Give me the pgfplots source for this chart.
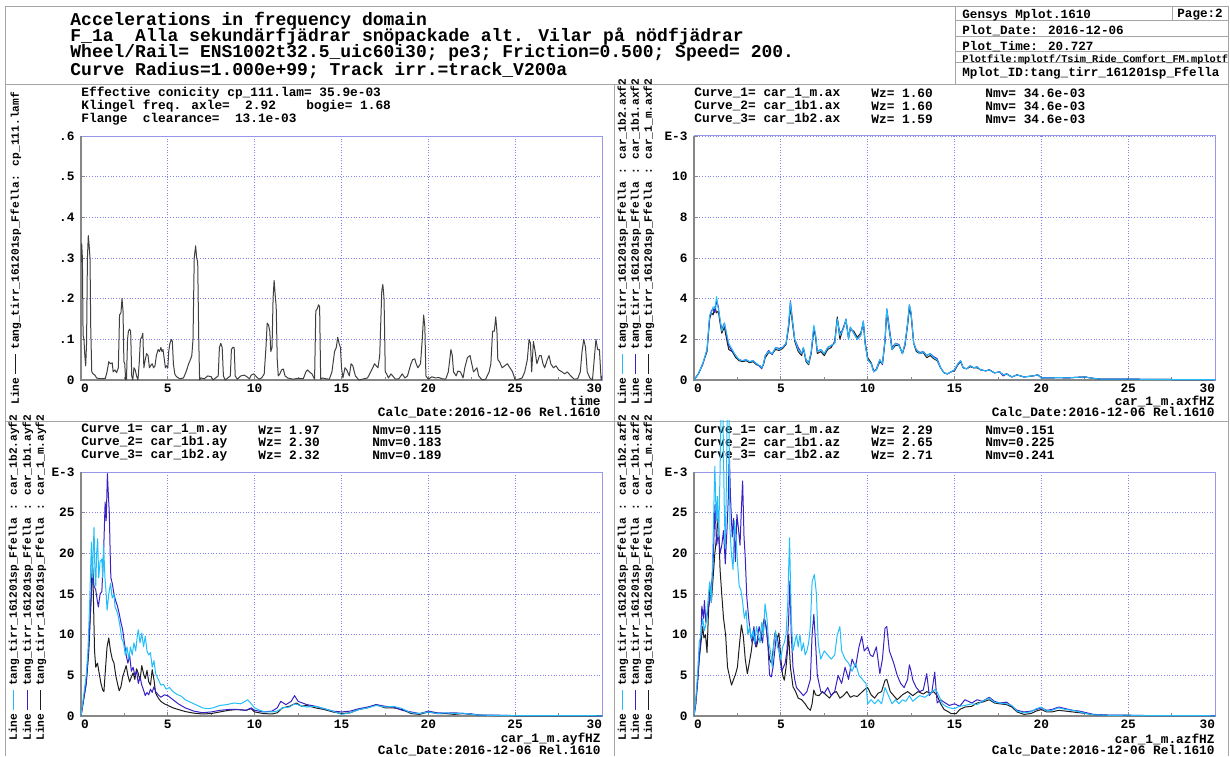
\documentclass[border=0pt]{standalone}
\usepackage{fontspec}
\setmainfont{Liberation Mono}
\usepackage{pgfplots}
\pgfplotsset{compat=1.18}
\usepackage{pgfplotstable}

\definecolor{gridc}{RGB}{130,130,240}
\definecolor{boxc}{RGB}{150,150,235}
\definecolor{framec}{RGB}{165,165,165}
\definecolor{axc}{RGB}{135,135,135}
\definecolor{cCyan}{RGB}{35,190,250}
\definecolor{cBlue}{RGB}{55,35,195}
\definecolor{cBlack}{RGB}{30,30,30}

\newcommand\fs[1]{\fontsize{#1}{#1}\selectfont\bfseries}

\pgfplotsset{
  panel/.style={
    scale only axis, width=260.5pt, height=122pt,
    xmin=0, xmax=30, ymin=0,
    axis line style={boxc, line width=0.5pt},
    grid=major, grid style={gridc, line width=0.45pt, dash pattern=on 0.45pt off 0.9pt},
    xtick={0,5,...,30},
    xticklabels={\rlap{0},5,10,15,20,25,\llap{30}},
    minor x tick num=1,
    tick pos=left,
    tick align=inside,
    major tick length=2pt, minor tick length=1.5pt,
    every tick/.style={axc, line width=0.4pt},
    tick label style={font=\fs{6.4}, inner sep=0pt},
    xticklabel style={anchor=north, yshift=-2pt},
    yticklabel style={anchor=east, xshift=-3pt},
    /pgf/number format/assume math mode=true,
    clip mode=individual,
  },
  curve/.style={line width=0.5pt, line join=round},
}
\newcommand\leftaxis{\draw[axc, line width=0.8pt] (rel axis cs:0,1) -- (rel axis cs:0,0) -- (rel axis cs:1,0);}

% longitudinal spectra, car body and bogies
\pgfplotstableread{
t m b1 b2
0 0 0 0
0.25 0.3 0.3 0.3
0.5 0.8 0.75 0.8
0.75 1.4 1.5 1.5
0.9 3.0 3.1 3.2
1.0 3.3 3.4 3.3
1.1 3.2 3.5 3.6
1.2 3.6 3.3 3.5
1.3 3.3 3.9 4.1
1.4 3.4 3.6 3.5
1.5 2.8 2.9 3.0
1.6 2.3 2.5 2.4
1.75 2.6 2.8 2.8
1.9 1.9 2.1 2.2
2.0 1.5 1.7 1.8
2.2 1.4 1.4 1.5
2.4 1.1 1.2 1.2
2.6 0.95 1.0 1.0
2.8 0.9 0.95 0.95
3.0 0.95 1.0 1.0
3.2 0.85 0.9 0.9
3.4 0.9 0.95 0.95
3.6 0.75 0.8 0.8
3.8 0.7 0.65 0.7
3.9 0.6 0.55 0.6
4.0 0.75 0.8 0.8
4.1 1.1 1.2 1.2
4.3 1.35 1.45 1.4
4.5 1.3 1.25 1.3
4.7 1.5 1.6 1.6
4.9 1.45 1.55 1.5
5.1 1.55 1.6 1.6
5.3 1.75 1.8 1.8
5.45 2.6 2.7 2.8
5.55 3.6 3.9 3.85
5.65 2.9 3.1 3.0
5.8 1.9 2.0 2.0
6.0 1.4 1.6 1.5
6.2 1.2 1.3 1.3
6.3 1.6 1.5 1.6
6.45 0.9 1.0 1.0
6.6 0.75 0.85 0.8
6.75 1.3 1.4 1.4
6.9 2.5 2.6 2.7
7.0 2.1 2.2 2.2
7.1 1.3 1.4 1.4
7.3 1.4 1.5 1.5
7.5 1.2 1.3 1.3
7.7 1.5 1.6 1.6
7.9 1.6 1.7 1.7
8.1 1.9 1.8 1.8
8.25 3.1 3.0 3.0
8.4 2.0 2.3 2.2
8.6 2.6 2.5 2.5
8.75 2.9 3.0 3.0
8.9 2.1 2.0 2.0
9.0 2.5 2.6 2.6
9.2 2.4 2.3 2.3
9.4 2.1 2.0 2.0
9.6 2.3 2.2 2.2
9.75 2.8 2.9 2.9
9.85 1.9 1.8 1.8
10.0 1.1 1.0 1.0
10.2 0.85 0.8 0.8
10.35 0.45 0.4 0.4
10.5 0.5 0.55 0.5
10.7 0.9 1.0 1.0
10.85 0.8 0.75 0.8
11.0 1.9 2.0 2.0
11.1 3.4 3.5 3.5
11.2 2.7 2.9 2.8
11.4 1.5 1.6 1.5
11.6 1.7 1.8 1.8
11.8 1.7 1.75 1.7
12.0 1.3 1.3 1.3
12.15 1.7 1.8 1.8
12.3 2.7 2.8 2.8
12.4 3.5 3.7 3.7
12.5 3.2 3.3 3.3
12.65 1.8 1.8 1.8
12.8 1.4 1.5 1.5
13.0 1.3 1.35 1.3
13.2 1.35 1.4 1.4
13.4 1.1 1.2 1.2
13.6 1.2 1.3 1.3
13.8 1.05 1.15 1.1
14.0 0.95 1.05 1.0
14.2 0.6 0.6 0.6
14.4 0.35 0.35 0.35
14.6 0.3 0.3 0.3
14.8 0.4 0.4 0.4
15.0 0.45 0.5 0.5
15.2 0.75 0.8 0.8
15.35 0.9 0.95 0.95
15.5 0.6 0.6 0.6
15.7 0.55 0.55 0.55
15.9 0.65 0.7 0.7
16.1 0.6 0.6 0.6
16.3 0.6 0.65 0.65
16.5 0.5 0.5 0.5
16.8 0.45 0.45 0.45
17.0 0.5 0.5 0.5
17.3 0.35 0.35 0.35
17.6 0.4 0.4 0.4
17.8 0.25 0.2 0.25
18.0 0.3 0.3 0.3
18.3 0.15 0.15 0.15
18.6 0.25 0.25 0.25
19.0 0.15 0.15 0.15
19.5 0.2 0.2 0.2
19.8 0.25 0.25 0.25
20.0 0.1 0.1 0.1
20.5 0.1 0.1 0.1
21 0.12 0.12 0.12
21.5 0.1 0.1 0.1
22 0.13 0.13 0.13
22.5 0.15 0.15 0.15
23 0.08 0.08 0.08
23.5 0.04 0.04 0.04
24 0.04 0.04 0.04
25 0.05 0.05 0.05
26 0.03 0.03 0.03
27 0.03 0.03 0.03
28 0.02 0.02 0.02
29 0.02 0.02 0.02
30 0.02 0.02 0.02
}\tblax

\begin{document}
\begin{tikzpicture}[x=0.5pt,y=0.5pt]
\path (0,0) rectangle (1230,756);

% page frame
\begin{scope}[draw=framec, line width=0.5pt]
\draw (5,0) -- (5,749) -- (1228,749) -- (1228,0);
\draw (5,671) -- (1228,671);
\draw (955,749) -- (955,671);
\foreach \yy in {735,719,704.5,693} \draw (955,\yy) -- (1228,\yy);
\draw (1172,749) -- (1172,735);
\draw (614,671) -- (614,0);
\draw (5,335) -- (1228,335);
\end{scope}

% title block
\begin{scope}[every node/.style={anchor=west, inner sep=0pt, font=\fs{9}}]
\node at (70,735.3) {Accelerations in frequency domain};
\node at (70,719.3) {F\_1a\ \ Alla sekundärfjädrar snöpackade alt. Vilar på nödfjädrar};
\node at (70,702.7) {Wheel/Rail= ENS1002t32.5\_uic60i30; pe3; Friction=0.500; Speed= 200.};
\node at (70,685.3) {Curve Radius=1.000e+99; Track irr.=track\_V200a};
\end{scope}
\begin{scope}[every node/.style={anchor=west, inner sep=0pt, font=\fs{6.3}}]
\node at (962,741) {Gensys Mplot.1610};
\node at (1177,741) {Page:2};
\node at (962,725) {Plot\_Date: 2016-12-06};
\node at (962,709.5) {Plot\_Time: 20.727};
\node[font=\fs{5.15}] at (962,696.5) {Plotfile:mplotf/Tsim\_Ride\_Comfort\_FM.mplotf};
\node at (962,683) {Mplot\_ID:tang\_tirr\_161201sp\_Ffella};
\end{scope}

% panel headers
\begin{scope}[every node/.style={anchor=west, inner sep=0pt, font=\fs{6.4}}]
\node at (81,663) {Effective conicity cp\_111.lam= 35.9e-03};
\node at (81,650) {Klingel freq. axle=\ \ 2.92};
\node at (306,650) {bogie= 1.68};
\node at (81,637) {Flange\ \ clearance=\ \ 13.1e-03};
\node at (694,663) {Curve\_1= car\_1\_m.ax}; \node at (871,663) {Wz= 1.60}; \node at (985,663) {Nmv= 34.6e-03};
\node at (694,650) {Curve\_2= car\_1b1.ax}; \node at (871,650) {Wz= 1.60}; \node at (985,650) {Nmv= 34.6e-03};
\node at (694,637) {Curve\_3= car\_1b2.ax}; \node at (871,637) {Wz= 1.59}; \node at (985,637) {Nmv= 34.6e-03};
\node at (81,326) {Curve\_1= car\_1\_m.ay}; \node at (258,326) {Wz= 1.97}; \node at (372,326) {Nmv=0.115};
\node at (81,313.5) {Curve\_2= car\_1b1.ay}; \node at (258,313.5) {Wz= 2.30}; \node at (372,313.5) {Nmv=0.183};
\node at (81,301) {Curve\_3= car\_1b2.ay}; \node at (258,301) {Wz= 2.32}; \node at (372,301) {Nmv=0.189};
\node at (694,326) {Curve\_1= car\_1\_m.az}; \node at (871,326) {Wz= 2.29}; \node at (985,326) {Nmv=0.151};
\node at (694,313.5) {Curve\_2= car\_1b1.az}; \node at (871,313.5) {Wz= 2.65}; \node at (985,313.5) {Nmv=0.225};
\node at (694,301) {Curve\_3= car\_1b2.az}; \node at (871,301) {Wz= 2.71}; \node at (985,301) {Nmv=0.241};
\end{scope}
\begin{scope}[every node/.style={anchor=east, inner sep=0pt, font=\fs{6.4}}]
\node at (601,355) {time};
\node at (601,343) {Calc\_Date:2016-12-06 Rel.1610};
\node at (1215,355) {car\_1\_m.axfHZ};
\node at (1215,343) {Calc\_Date:2016-12-06 Rel.1610};
\node at (601,17) {car\_1\_m.ayfHZ};
\node at (601,5) {Calc\_Date:2016-12-06 Rel.1610};
\node at (1215,17) {car\_1\_m.azfHZ};
\node at (1215,5) {Calc\_Date:2016-12-06 Rel.1610};
\end{scope}

% curve keys along the left edges
\newcommand\key[3]{Line\hspace{2pt}\textcolor{#1}{\rule[0.25em]{10pt}{0.5pt}}\hspace{2pt}tang\_tirr\_161201sp\_Ffella#2: #3}
\begin{scope}[every node/.style={rotate=90, anchor=west, inner sep=0pt, font=\fs{5.6}}]
\node at (16,351) {\key{cBlack}{}{cp\_111.lamf}};
\node at (623,351) {\key{cCyan}{ }{car\_1b2.axf2}};
\node at (636,351) {\key{cBlue}{ }{car\_1b1.axf2}};
\node at (649,351) {\key{cBlack}{ }{car\_1\_m.axf2}};
\node at (14,15) {\key{cCyan}{ }{car\_1b2.ayf2}};
\node at (28,15) {\key{cBlue}{ }{car\_1b1.ayf2}};
\node at (41,15) {\key{cBlack}{ }{car\_1\_m.ayf2}};
\node at (623,15) {\key{cCyan}{ }{car\_1b2.azf2}};
\node at (636,15) {\key{cBlue}{ }{car\_1b1.azf2}};
\node at (649,15) {\key{cBlack}{ }{car\_1\_m.azf2}};
\end{scope}

% effective conicity versus time
\begin{axis}[panel, at={(40.5pt,188pt)}, anchor=south west, ymax=0.6,
  ytick={0,0.1,0.2,0.3,0.4,0.5,0.6}, yticklabels={0,.1,.2,.3,.4,.5,.6}]
\leftaxis
\addplot[curve, cBlack!85] coordinates {
(0,0.29) (0.04,0.335) (0.08,0.30) (0.12,0.11) (0.17,0.10) (0.22,0.06) (0.27,0.035) (0.32,0.09)
(0.37,0.30) (0.42,0.355) (0.47,0.33) (0.52,0.30) (0.56,0.13) (0.62,0.02) (0.7,0.015) (0.8,0.012)
(0.9,0.005) (1.0,0.004) (1.2,0.003) (1.4,0.004) (1.5,0.02) (1.6,0.045) (1.7,0.04) (1.8,0.042)
(1.85,0.02) (1.95,0.025) (2.05,0.018) (2.15,0.03) (2.22,0.16) (2.3,0.165) (2.36,0.2) (2.42,0.17)
(2.47,0.045) (2.52,0.04) (2.57,0.0) (2.62,0.002) (2.68,0.1) (2.73,0.12) (2.8,0.125) (2.86,0.12)
(2.92,0.01) (2.98,0.0) (3.05,0.03) (3.12,0.025) (3.2,0.01) (3.28,0.0) (3.35,0.04) (3.42,0.1)
(3.5,0.105) (3.56,0.115) (3.62,0.03) (3.7,0.05) (3.78,0.065) (3.86,0.06) (3.94,0.03) (4.0,0.035)
(4.1,0.04) (4.18,0.03) (4.26,0.035) (4.34,0.06) (4.44,0.075) (4.52,0.07) (4.6,0.08) (4.66,0.07)
(4.72,0.075) (4.8,0.05) (4.86,0.03) (4.92,0.035) (5.0,0.03) (5.05,0.07) (5.12,0.09) (5.2,0.1)
(5.26,0.095) (5.32,0.04) (5.4,0.015) (5.5,0.008) (5.7,0.003) (5.9,0.005) (6.05,0.02) (6.2,0.04)
(6.3,0.05) (6.38,0.06) (6.45,0.1) (6.52,0.3) (6.6,0.33) (6.66,0.3) (6.72,0.29) (6.78,0.1)
(6.83,0.0) (6.9,0.005) (7.1,0.003) (7.3,0.01) (7.5,0.008) (7.6,0.0) (7.75,0.005) (7.9,0.01)
(7.97,0.08) (8.05,0.09) (8.13,0.08) (8.2,0.01) (8.3,0.0) (8.45,0.005) (8.6,0.01) (8.66,0.075)
(8.74,0.08) (8.82,0.08) (8.88,0.01) (9.0,0.002) (9.2,0.01) (9.4,0.012) (9.55,0.008) (9.7,0.003)
(9.8,0.012) (9.95,0.015) (10.1,0.008) (10.25,0.002) (10.4,0.005) (10.55,0.015) (10.65,0.08) (10.72,0.14)
(10.8,0.135) (10.87,0.12) (10.93,0.07) (11.0,0.08) (11.06,0.2) (11.12,0.245) (11.18,0.21) (11.24,0.18)
(11.3,0.05) (11.36,0.01) (11.45,0.015) (11.55,0.025) (11.65,0.027) (11.75,0.01) (11.9,0.005) (12.2,0.002)
(12.5,0.004) (12.8,0.003) (12.95,0.02) (13.05,0.025) (13.15,0.02) (13.3,0.015) (13.45,0.002) (13.52,0.17)
(13.6,0.175) (13.68,0.185) (13.74,0.18) (13.8,0.002) (13.9,0.005) (14.1,0.003) (14.3,0.002) (14.45,0.02)
(14.6,0.07) (14.7,0.08) (14.78,0.105) (14.86,0.09) (14.94,0.08) (15.0,0.03) (15.08,0.005) (15.2,0.03)
(15.3,0.025) (15.45,0.01) (15.55,0.04) (15.65,0.035) (15.8,0.01) (16.0,0.0) (16.2,0.002) (16.5,0.005)
(16.8,0.03) (16.9,0.04) (17.0,0.035) (17.1,0.03) (17.2,0.06) (17.32,0.22) (17.38,0.235) (17.45,0.2)
(17.52,0.02) (17.6,0.015) (17.7,0.005) (17.85,0.015) (17.95,0.01) (18.1,0.002) (18.3,0.003) (18.5,0.015)
(18.65,0.005) (18.8,0.01) (19.0,0.04) (19.1,0.05) (19.22,0.052) (19.3,0.04) (19.4,0.03) (19.55,0.04)
(19.65,0.1) (19.73,0.16) (19.8,0.13) (19.86,0.01) (20.0,0.002) (20.2,0.008) (20.4,0.005) (20.6,0.006)
(20.8,0.003) (21.0,0.002) (21.15,0.02) (21.3,0.075) (21.38,0.06) (21.45,0.02) (21.6,0.01) (21.7,0.022)
(21.85,0.02) (22.0,0.005) (22.1,0.03) (22.25,0.055) (22.4,0.06) (22.5,0.04) (22.6,0.02) (22.8,0.03)
(22.9,0.01) (23.1,0.0) (23.3,0.002) (23.5,0.02) (23.6,0.04) (23.7,0.12) (23.8,0.12) (23.88,0.155)
(23.95,0.12) (24.0,0.05) (24.1,0.045) (24.25,0.03) (24.4,0.035) (24.55,0.04) (24.7,0.03) (24.85,0.02)
(25.0,0.0) (25.2,0.002) (25.4,0.005) (25.55,0.02) (25.7,0.05) (25.8,0.1) (25.88,0.09) (25.95,0.02)
(26.05,0.095) (26.15,0.07) (26.25,0.04) (26.4,0.06) (26.5,0.06) (26.6,0.04) (26.7,0.03) (26.85,0.05)
(26.95,0.06) (27.05,0.04) (27.2,0.03) (27.35,0.035) (27.5,0.025) (27.7,0.02) (27.85,0.015) (28.0,0.02)
(28.2,0.01) (28.4,0.002) (28.6,0.003) (28.75,0.02) (28.85,0.07) (28.95,0.1) (29.05,0.08) (29.15,0.02)
(29.3,0.005) (29.45,0.0) (29.55,0.05) (29.65,0.1) (29.75,0.075) (29.85,0.075) (29.95,0.0) (30.0,0.01)
};
\end{axis}

% longitudinal accelerations
\begin{axis}[panel, at={(347pt,188pt)}, anchor=south west, ymax=12,
  ytick={0,2,4,6,8,10,12}, yticklabels={0,2,4,6,8,10,E-3}]
\leftaxis
\addplot[curve, cBlack] table[x=t, y=m] {\tblax};
\addplot[curve, cBlue] table[x=t, y=b1] {\tblax};
\addplot[curve, cCyan] table[x=t, y=b2] {\tblax};
\end{axis}

% lateral accelerations
\begin{axis}[panel, at={(40.5pt,20pt)}, anchor=south west, ymax=30,
  ytick={0,5,...,30}, yticklabels={0,5,10,15,20,25,E-3}]
\leftaxis
\addplot[curve, cBlack] coordinates {
(0,0) (0.15,2) (0.3,4) (0.45,8) (0.55,13) (0.62,17) (0.67,18.9) (0.72,14) (0.78,8) (0.85,6) (0.95,6.5)
(1.05,5.2) (1.15,4) (1.25,3.2) (1.32,3) (1.4,5.5) (1.5,8.5) (1.6,9.6) (1.7,8) (1.8,7) (1.9,6.5) (2.0,5)
(2.1,4) (2.2,3.1) (2.3,3.6) (2.4,4.8) (2.5,5.5) (2.6,6.2) (2.7,5) (2.8,4.2) (2.9,4.8) (3.0,5.3) (3.1,4.5)
(3.2,5.8) (3.3,5.2) (3.4,4.4) (3.5,6.2) (3.6,5.2) (3.7,4.6) (3.8,5.6) (3.9,4.2) (4.0,3.8) (4.1,5.7)
(4.2,4.5) (4.3,2.8) (4.45,2.2) (4.6,1.8) (4.8,1.5) (5.0,1.3) (5.3,1.0) (5.6,0.8) (6.0,0.55) (6.5,0.35)
(7,0.25) (7.5,0.3) (8,0.5) (8.5,0.7) (9,0.8) (9.5,0.7) (9.8,0.9) (10,0.5) (10.5,0.3) (11,0.25) (11.3,0.4)
(11.6,1.0) (12,1.2) (12.4,1.6) (12.7,1.2) (13,1.3) (13.5,1.0) (14,0.8) (14.5,0.5) (15,0.3) (15.5,0.4)
(16,0.8) (16.5,1.0) (17,1.4) (17.5,1.0) (18,1.0) (18.5,0.8) (19,0.3) (19.5,0.2) (20,0.5) (20.5,0.3)
(21,0.3) (21.5,0.2) (22,0.3) (22.5,0.2) (23,0.1) (24,0.05) (25,0.03) (30,0.03)
};
\addplot[curve, cBlue] coordinates {
(0,0) (0.15,2) (0.3,4) (0.4,7) (0.5,11) (0.6,15) (0.67,18) (0.75,16) (0.85,15.5) (0.95,14) (1.0,13.4)
(1.1,15) (1.2,15.3) (1.3,20) (1.39,26.3) (1.45,24) (1.52,29.8) (1.58,27) (1.63,25) (1.68,20) (1.72,17)
(1.8,16.3) (1.9,15) (1.99,14.2) (2.1,13.5) (2.2,12.6) (2.3,11.5) (2.4,10.6) (2.5,9) (2.6,7.5) (2.7,6.5)
(2.8,7.5) (2.9,5.5) (3.0,6) (3.1,5) (3.2,5.5) (3.3,4) (3.4,4.8) (3.5,3.8) (3.6,3.2) (3.7,2.5) (3.8,2.9)
(3.9,2.6) (4.0,3.3) (4.1,2.9) (4.2,3.6) (4.3,3.0) (4.45,2.6) (4.6,2.3) (4.8,2.6) (5.0,2.5) (5.3,2.0)
(5.6,1.5) (6.0,1.0) (6.5,0.6) (7,0.4) (7.5,0.5) (8,0.7) (8.5,0.8) (9,0.8) (9.5,0.7) (9.8,1.0) (10,0.7)
(10.5,0.5) (11,0.6) (11.3,1.0) (11.5,1.8) (11.8,1.4) (12.1,1.8) (12.3,2.5) (12.5,1.8) (13,1.4) (13.5,1.2)
(14,0.9) (14.5,0.6) (15,0.5) (15.5,0.6) (16,0.9) (16.5,1.1) (17,1.4) (17.5,1.2) (18,1.1) (18.5,0.7)
(19,0.5) (19.5,0.3) (20,0.6) (20.5,0.4) (21,0.35) (21.5,0.4) (22,0.3) (22.5,0.25) (23,0.1) (24,0.1)
(25,0.05) (30,0.03)
};
\addplot[curve, cCyan] coordinates {
(0,0) (0.15,2.5) (0.3,5) (0.4,8) (0.5,14) (0.6,21.4) (0.65,17) (0.7,20) (0.75,23.2) (0.8,18) (0.85,16)
(0.9,20) (0.96,21.8) (1.02,17) (1.1,19) (1.2,19.3) (1.25,17) (1.3,21) (1.38,17) (1.45,15) (1.5,13)
(1.6,15) (1.7,16.3) (1.8,14.5) (1.9,15) (1.96,13.4) (2.05,13) (2.15,12.2) (2.25,11) (2.35,9.5) (2.45,9)
(2.55,7.5) (2.65,8.5) (2.75,7) (2.85,8.5) (2.95,7.5) (3.05,9) (3.15,8) (3.25,10) (3.3,10.6) (3.4,9)
(3.5,10.2) (3.6,8.5) (3.7,9.8) (3.8,8) (3.9,7.5) (4.0,7.8) (4.1,6) (4.2,6.8) (4.3,5.2) (4.45,4.5)
(4.6,3.8) (4.75,3.9) (4.9,3.3) (5.1,3.5) (5.3,3) (5.5,2.7) (5.8,2.4) (6.0,2.0) (6.3,1.7) (6.6,1.4)
(7.0,1.0) (7.3,0.9) (7.6,1.0) (8,1.3) (8.4,1.4) (8.8,1.6) (9.2,1.5) (9.6,2.0) (9.8,1.5) (10,1.0)
(10.3,0.7) (10.6,0.5) (11,0.5) (11.3,0.6) (11.6,1.0) (12,1.1) (12.3,1.5) (12.6,1.3) (13,1.1) (13.5,1.2)
(14,0.9) (14.5,0.6) (15,0.2) (15.5,0.4) (16,0.8) (16.5,1.0) (17,1.3) (17.5,1.1) (18,1.2) (18.5,0.9)
(19,0.4) (19.5,0.3) (20,0.5) (20.5,0.3) (21,0.4) (21.5,0.3) (22,0.35) (22.5,0.2) (23,0.1) (24,0.08)
(25,0.05) (30,0.03)
};
\end{axis}

% vertical accelerations: frame and grid
\begin{axis}[panel, at={(347pt,20pt)}, anchor=south west, ymax=30,
  ytick={0,5,...,30}, yticklabels={0,5,10,15,20,25,E-3}]
\leftaxis
\end{axis}
% vertical accelerations: curves, allowed to run up to the panel border
\begin{axis}[scale only axis, width=260.5pt, height=147.5pt, at={(347pt,20pt)}, anchor=south west,
  xmin=0, xmax=30, ymin=0, ymax=36.27, hide axis]
\addplot[curve, cBlack] coordinates {
(0,0) (0.1,1.5) (0.2,4) (0.3,7) (0.4,9) (0.5,11) (0.57,9.6) (0.66,10) (0.75,7.8) (0.82,12) (0.9,16)
(1.0,14) (1.1,17) (1.2,20) (1.3,22) (1.4,24.8) (1.5,18) (1.6,14.9) (1.7,12) (1.82,10) (1.93,6) (2.05,4.8)
(2.16,3.8) (2.28,4.5) (2.4,5.2) (2.5,6) (2.57,7.7) (2.65,9.5) (2.73,11.2) (2.84,9.8) (2.95,7) (3.07,5.2)
(3.18,6.5) (3.3,8) (3.4,9.8) (3.5,9) (3.6,8.5) (3.7,9.5) (3.86,9.3) (3.95,11) (4.05,12) (4.15,11)
(4.25,9) (4.35,7) (4.45,6.5) (4.55,8) (4.66,10.2) (4.78,9.5) (4.89,10.2) (5.0,7) (5.1,5) (5.2,4.4)
(5.3,6) (5.38,8) (5.45,10) (5.55,6) (5.7,3.6) (5.85,3) (6.0,2.2) (6.2,2) (6.4,1.5) (6.55,1) (6.7,0.7)
(6.8,1.5) (6.9,3.2) (7.0,2.6) (7.2,2.5) (7.4,3) (7.6,2.6) (7.8,2.2) (8.0,2.8) (8.2,3) (8.4,2.2)
(8.6,2.5) (8.8,3) (9.0,2.3) (9.2,2.5) (9.4,2.4) (9.6,2.8) (9.9,3.4) (10.0,3.5) (10.2,2.6) (10.4,2.2)
(10.6,2.8) (10.8,3) (11.0,4.4) (11.1,4.5) (11.3,3) (11.5,2.5) (11.7,2) (12.0,2.6) (12.3,3) (12.6,2.5)
(12.9,3) (13.2,2.7) (13.4,3.0) (13.6,2.8) (13.8,3) (14.0,2.5) (14.2,1.5) (14.4,0.8) (14.66,0.5)
(14.8,0.3) (15.1,0.3) (15.3,0.8) (15.6,1.1) (16,1.2) (16.3,1.6) (16.6,1.7) (17,2.0) (17.3,1.6)
(17.6,1.5) (18,1.4) (18.3,1.1) (18.6,0.5) (19,0.2) (19.4,0.3) (19.7,0.6) (20,0.8) (20.3,0.5) (20.6,0.5)
(21,0.7) (21.4,0.6) (21.8,0.5) (22.2,0.4) (22.6,0.3) (23,0.15) (24,0.08) (25,0.06) (30,0.03)
};
\addplot[curve, cBlue] coordinates {
(0,0) (0.1,1.5) (0.2,4) (0.3,7) (0.4,10) (0.45,13.5) (0.55,12) (0.6,14.2) (0.68,11.5) (0.8,13) (0.9,14)
(0.95,15.5) (1.05,17) (1.12,20) (1.21,26) (1.3,21) (1.4,22.5) (1.5,20) (1.6,21) (1.7,22.8) (1.8,18.7)
(1.9,23) (1.97,26.5) (2.03,32.5) (2.1,27) (2.2,22) (2.28,24.3) (2.38,19) (2.47,24.8) (2.55,23.2)
(2.65,21) (2.72,25) (2.8,28.9) (2.88,22) (2.95,19.5) (3.04,14.6) (3.15,12) (3.25,10) (3.35,9) (3.45,11)
(3.55,8.5) (3.65,9.5) (3.75,11) (3.85,10) (3.95,9) (4.05,12) (4.15,11) (4.25,9) (4.35,5) (4.45,4.8)
(4.55,6) (4.65,8) (4.75,10) (4.85,9) (4.95,7) (5.05,5.5) (5.15,6) (5.25,6.5) (5.35,8) (5.45,12)
(5.52,16.6) (5.6,10) (5.7,6) (5.8,4.5) (5.9,3.5) (6.1,3) (6.3,2.5) (6.5,3) (6.7,4.5) (6.8,10) (6.9,12.5)
(7.0,9) (7.1,5) (7.3,3) (7.5,2.8) (7.7,3.5) (7.9,2.5) (8.1,3) (8.3,5) (8.5,4) (8.7,6) (8.9,4.5) (9.1,7)
(9.3,6) (9.5,8.5) (9.66,9.8) (9.8,8) (10.0,8.5) (10.15,7.5) (10.3,7.3) (10.5,8.5) (10.7,5.2) (10.85,7)
(11.0,10.8) (11.1,11) (11.25,8) (11.5,6.5) (11.7,5) (11.9,4) (12.1,3.5) (12.3,4.5) (12.4,6.3) (12.5,5.5)
(12.6,4.4) (12.8,3.5) (13.0,3) (13.2,3.2) (13.4,5.2) (13.55,2.5) (13.7,3) (13.86,5.4) (14.0,1.6)
(14.2,2) (14.4,1.7) (14.7,1.3) (15,1.5) (15.3,1.2) (15.6,2) (16,1.6) (16.3,2.0) (16.6,1.8) (17,2.3)
(17.3,1.8) (17.6,1.6) (18,1.7) (18.3,1.2) (18.6,0.7) (19,0.5) (19.4,0.6) (19.7,0.8) (20,1.0) (20.3,0.7)
(20.6,0.8) (21,1.1) (21.4,0.9) (21.8,0.7) (22.2,0.6) (22.6,0.4) (23,0.2) (24,0.1) (25,0.1) (26,0.06)
(30,0.04)
};
\addplot[curve, cCyan] coordinates {
(0,0) (0.1,2) (0.2,5) (0.3,9) (0.4,10) (0.5,12) (0.6,10.5) (0.7,11.5) (0.8,14) (0.9,16.5) (1.0,14)
(1.08,20) (1.2,30.7) (1.28,24) (1.35,27) (1.42,22) (1.5,30) (1.58,40) (1.66,38) (1.74,26) (1.8,20.6)
(1.86,28) (1.93,40) (2.0,40) (2.07,23) (2.15,20) (2.25,18) (2.33,24) (2.42,22) (2.5,19) (2.6,16)
(2.7,15.5) (2.8,14) (2.9,12) (3.0,13) (3.1,10) (3.2,11) (3.3,9.5) (3.4,10.5) (3.5,9) (3.6,11) (3.7,10)
(3.8,9) (3.9,11.5) (4.0,10) (4.09,13.8) (4.2,12) (4.3,9) (4.4,8) (4.5,6) (4.6,9) (4.7,10.5) (4.8,8.5)
(4.9,8) (5.0,7) (5.1,8.5) (5.2,9) (5.3,10) (5.4,14) (5.5,21.9) (5.6,12) (5.7,8) (5.8,9) (5.9,10)
(6.0,8.5) (6.1,10) (6.2,8) (6.3,9) (6.4,7.5) (6.5,8) (6.6,9) (6.7,11) (6.8,16.5) (6.93,17.4) (7.05,15)
(7.15,9) (7.3,7) (7.5,8) (7.7,7.5) (7.9,7) (8.1,7.5) (8.25,10) (8.4,11) (8.5,8) (8.7,7) (8.9,6.5)
(9.1,5.5) (9.3,6.5) (9.5,5) (9.7,4.5) (9.9,4) (10.0,1.5) (10.2,2) (10.4,1.5) (10.6,2) (10.8,1.5)
(11.0,3.5) (11.2,2.5) (11.4,1.5) (11.6,2) (11.8,1.5) (12.0,2) (12.2,1.8) (12.4,2.5) (12.6,1.8) (12.8,2.2)
(13.0,2.5) (13.3,2.3) (13.6,2.8) (13.9,3.3) (14.1,2.5) (14.3,1.5) (14.5,1.2) (14.7,1) (15.0,0.9)
(15.3,1.2) (15.6,1.3) (16,1.5) (16.3,1.4) (16.6,1.8) (17,2.2) (17.3,1.7) (17.6,1.6) (18,1.5) (18.3,1.3)
(18.6,0.6) (19,0.4) (19.4,0.5) (19.7,0.9) (20,1.1) (20.3,0.6) (20.6,0.7) (21,1.0) (21.4,0.8) (21.8,0.7)
(22.2,0.5) (22.6,0.3) (23,0.15) (24,0.08) (25,0.1) (26,0.05) (30,0.03)
};
\end{axis}
\pgfresetboundingbox
\path[use as bounding box] (0,0) rectangle (1230,756);
\end{tikzpicture}
\end{document}
